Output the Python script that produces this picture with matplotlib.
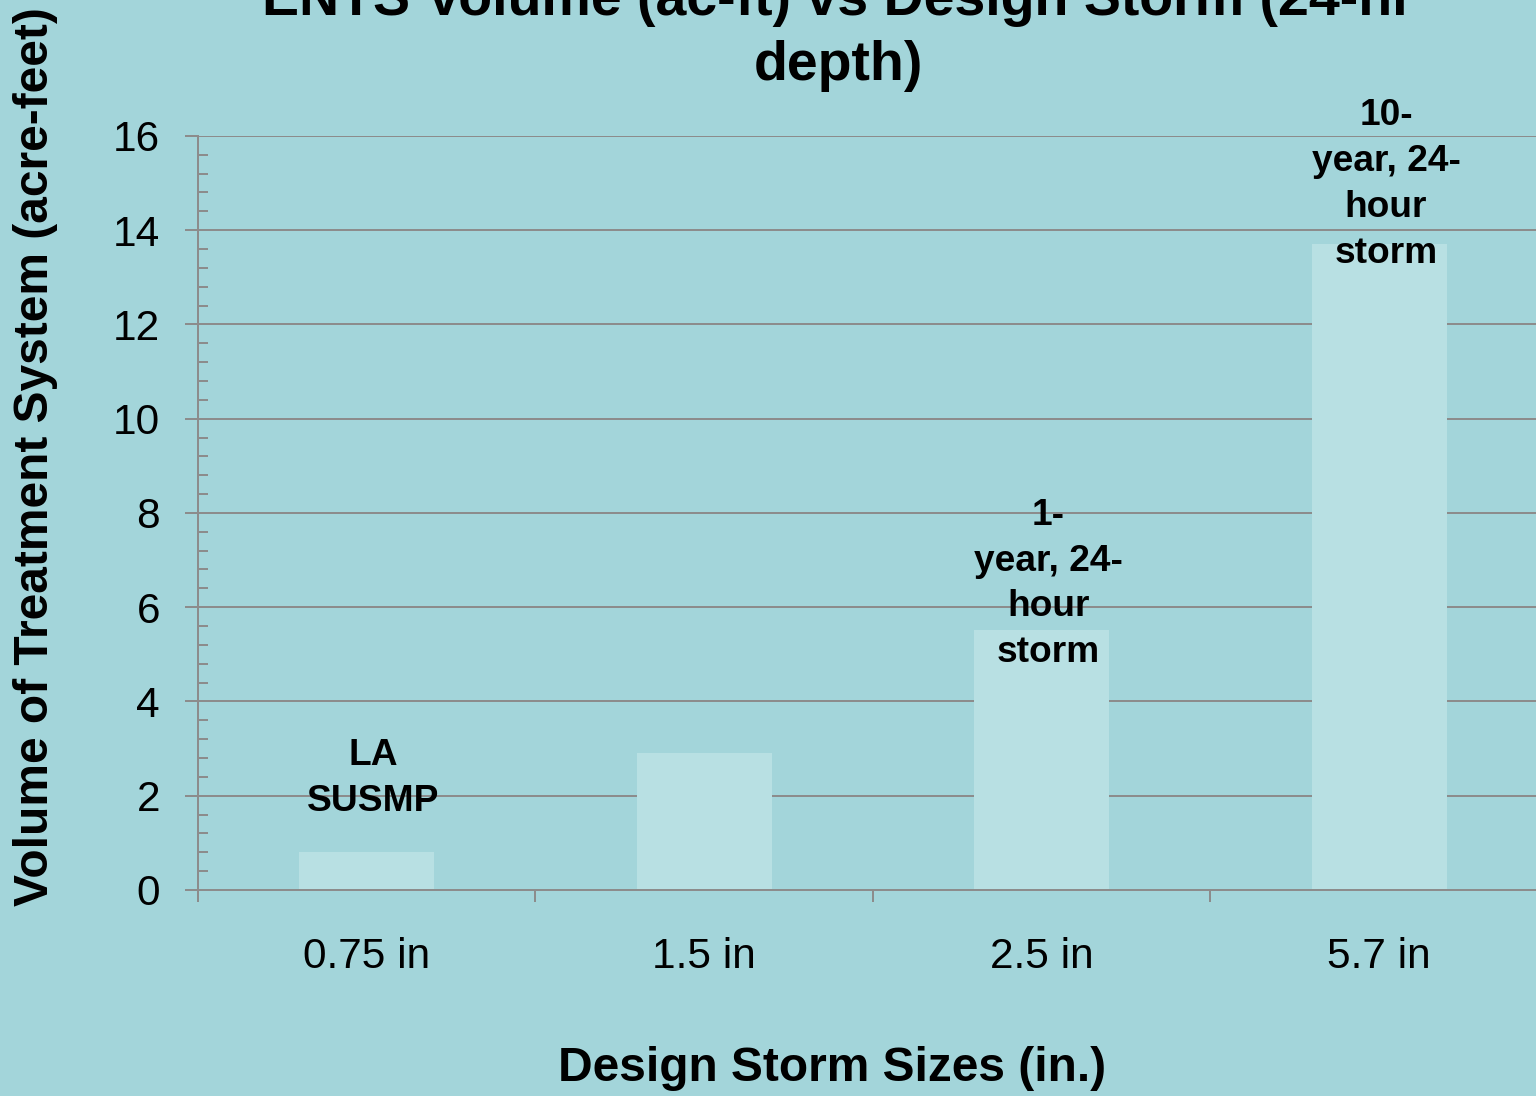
import matplotlib.pyplot as plt
from matplotlib.ticker import MultipleLocator, FixedLocator

plt.rcParams['font.family'] = ['Liberation Sans', 'DejaVu Sans']

# data
storms = ['0.75 in', '1.5 in', '2.5 in', '5.7 in']
volumes = [0.81, 2.91, 5.52, 13.71]
labels = ['LA\nSUSMP', '', '1-\nyear, 24-\nhour\nstorm', '10-\nyear, 24-\nhour\nstorm']
label_y = [2.37, 0, 6.49, 14.97]

bg = '#a3d5da'
bar_col = '#b8e0e3'
grey = '#8c8c8c'

fig = plt.figure(figsize=(15.36, 10.96), dpi=100, facecolor=bg)
ax = fig.add_axes([0.1289, 0.188, 0.8789, 0.688], facecolor=bg)

x = list(range(len(storms)))
ax.bar(x, volumes, width=0.4, color=bar_col, zorder=2)

for i in range(len(storms)):
    if labels[i]:
        ax.text(x[i] + 0.02, label_y[i], labels[i], ha='center', va='center',
                fontsize=26.7, fontweight='bold', linespacing=1.4, zorder=3)

ax.set_xlim(-0.5, 3.5)
ax.set_ylim(0, 16)
ax.yaxis.set_major_locator(MultipleLocator(2))
ax.yaxis.set_minor_locator(MultipleLocator(0.4))
ax.xaxis.set_major_locator(FixedLocator([-0.5, 0.5, 1.5, 2.5]))
ax.xaxis.set_minor_locator(FixedLocator(x))
ax.set_xticklabels([])
ax.set_xticklabels(storms, minor=True)
ax.tick_params(axis='x', which='major', length=8.6, width=1.44, color=grey, direction='out')
ax.tick_params(axis='x', which='minor', length=0, pad=34, labelsize=30.5)
ax.tick_params(axis='y', which='major', length=9.4, width=1.44, color=grey, direction='out',
               labelsize=30.5, pad=18)
ax.tick_params(axis='y', which='minor', length=7.2, width=1.44, color=grey, direction='in')
ax.grid(axis='y', which='major', color=grey, lw=1.44, zorder=1)
ax.set_axisbelow(True)

for s in ['top', 'right']:
    ax.spines[s].set_visible(False)
for s in ['left', 'bottom']:
    ax.spines[s].set_color(grey)
    ax.spines[s].set_linewidth(1.44)

fig.text(0.5456, 0.916, 'ENTS Volume (ac-ft) vs Design Storm (24-hr\ndepth)',
         ha='center', va='bottom', fontsize=40, fontweight='bold', linespacing=1.32)
fig.text(0.023, 0.583, 'Volume of Treatment System (acre-feet)', rotation=90,
         ha='center', va='center', fontsize=34.5, fontweight='bold')
fig.text(0.5417, 0.0255, 'Design Storm Sizes (in.)', ha='center', va='center',
         fontsize=34.5, fontweight='bold')

fig.savefig('out.png', dpi=100, facecolor=bg)
